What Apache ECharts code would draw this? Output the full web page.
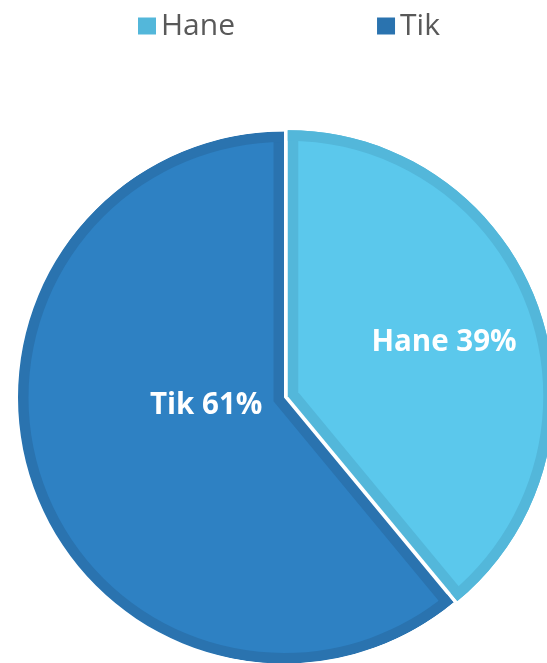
<!DOCTYPE html>
<html>
<head>
<meta charset="utf-8">
<script src="https://cdn.jsdelivr.net/npm/echarts@6/dist/echarts.min.js"></script>
<style>
html,body{margin:0;padding:0;background:#fff;}
#c{width:547px;height:663px;}
</style>
</head>
<body>
<div id="c"></div>
<script>
// ---- data ----
const categories = ['Hane', 'Tik'];
const values = [39, 61];

// ---- styles ----
const lightColors = ['#5BC8EC', '#2E81C3'];
const darkColors = ['#53B7DA', '#2A73AF'];
const FONT = 'Open Sans';
const C = [284, 397.5];
const R = 266;
const BAND = 10.5;
const EXPLODE = 4;
const INSET = BAND / 0.9409;
const T = 'rgba(0,0,0,0)';

function items(colorFn, extra) {
  return categories.map((n, i) => Object.assign({
    name: n, value: values[i], itemStyle: { color: colorFn(i), borderWidth: 0 }
  }, extra ? extra(i) : {}));
}
const base = {
  type: 'pie', center: C, silent: true, clockwise: true, startAngle: 90,
  label: { show: false }, labelLine: { show: false },
  emphasis: { disabled: true }, animation: false, selectedMode: 'multiple',
  itemStyle: { borderWidth: 0 }
};
function pie(o) { return Object.assign({}, base, o); }
const labelStyle = { show: true, position: 'inside',
  formatter: p => p.name + ' ' + Math.round(p.percent) + '%',
  color: '#fff', fontFamily: FONT, fontWeight: 'bold', fontSize: 29.5 };

const chart = echarts.init(document.getElementById('c'), null, { renderer: 'canvas' });
chart.setOption({
  backgroundColor: '#fff',
  animation: false,
  legend: {
    left: 138, top: 11, padding: 0,
    itemWidth: 18, itemHeight: 17, itemGap: 142,
    icon: 'rect', selectedMode: false,
    textStyle: { fontFamily: FONT, fontSize: 30, color: '#595959', lineHeight: 30 },
    data: categories.map((n, i) => ({ name: n, itemStyle: { color: darkColors[i] } }))
  },
  series: [
    // dark base
    pie({ z: 1, radius: R, selectedOffset: EXPLODE,
      data: items(i => darkColors[i], i => ({ selected: i === 0 })) }),
    // light Hane (inset)
    pie({ z: 2, radius: 253, selectedOffset: EXPLODE + INSET,
      data: items(i => i === 0 ? lightColors[0] : T, i => ({ selected: i === 0 })) }),
    // light Tik (inset)
    pie({ z: 2, radius: 260, selectedOffset: INSET,
      data: items(i => i === 1 ? lightColors[1] : T, i => ({ selected: i === 1 })) }),
    // dark outer ring
    pie({ z: 3, radius: [R - BAND, R], selectedOffset: EXPLODE,
      data: items(i => darkColors[i], i => ({ selected: i === 0 })) }),
    // white mask beyond Tik arc
    pie({ z: 4, radius: [R, R + 60],
      data: items(i => i === 1 ? '#fff' : T) }),
    // Hane label
    pie({ z: 5, radius: 332, center: [285, 399.5],
      data: items(() => T, i => ({ label: { show: i === 0 } })),
      label: labelStyle }),
    // Tik label
    pie({ z: 5, radius: 162, center: [285.2, 377.6],
      data: items(() => T, i => ({ label: { show: i === 1 } })),
      label: labelStyle })
  ]
});
</script>
</body>
</html>
